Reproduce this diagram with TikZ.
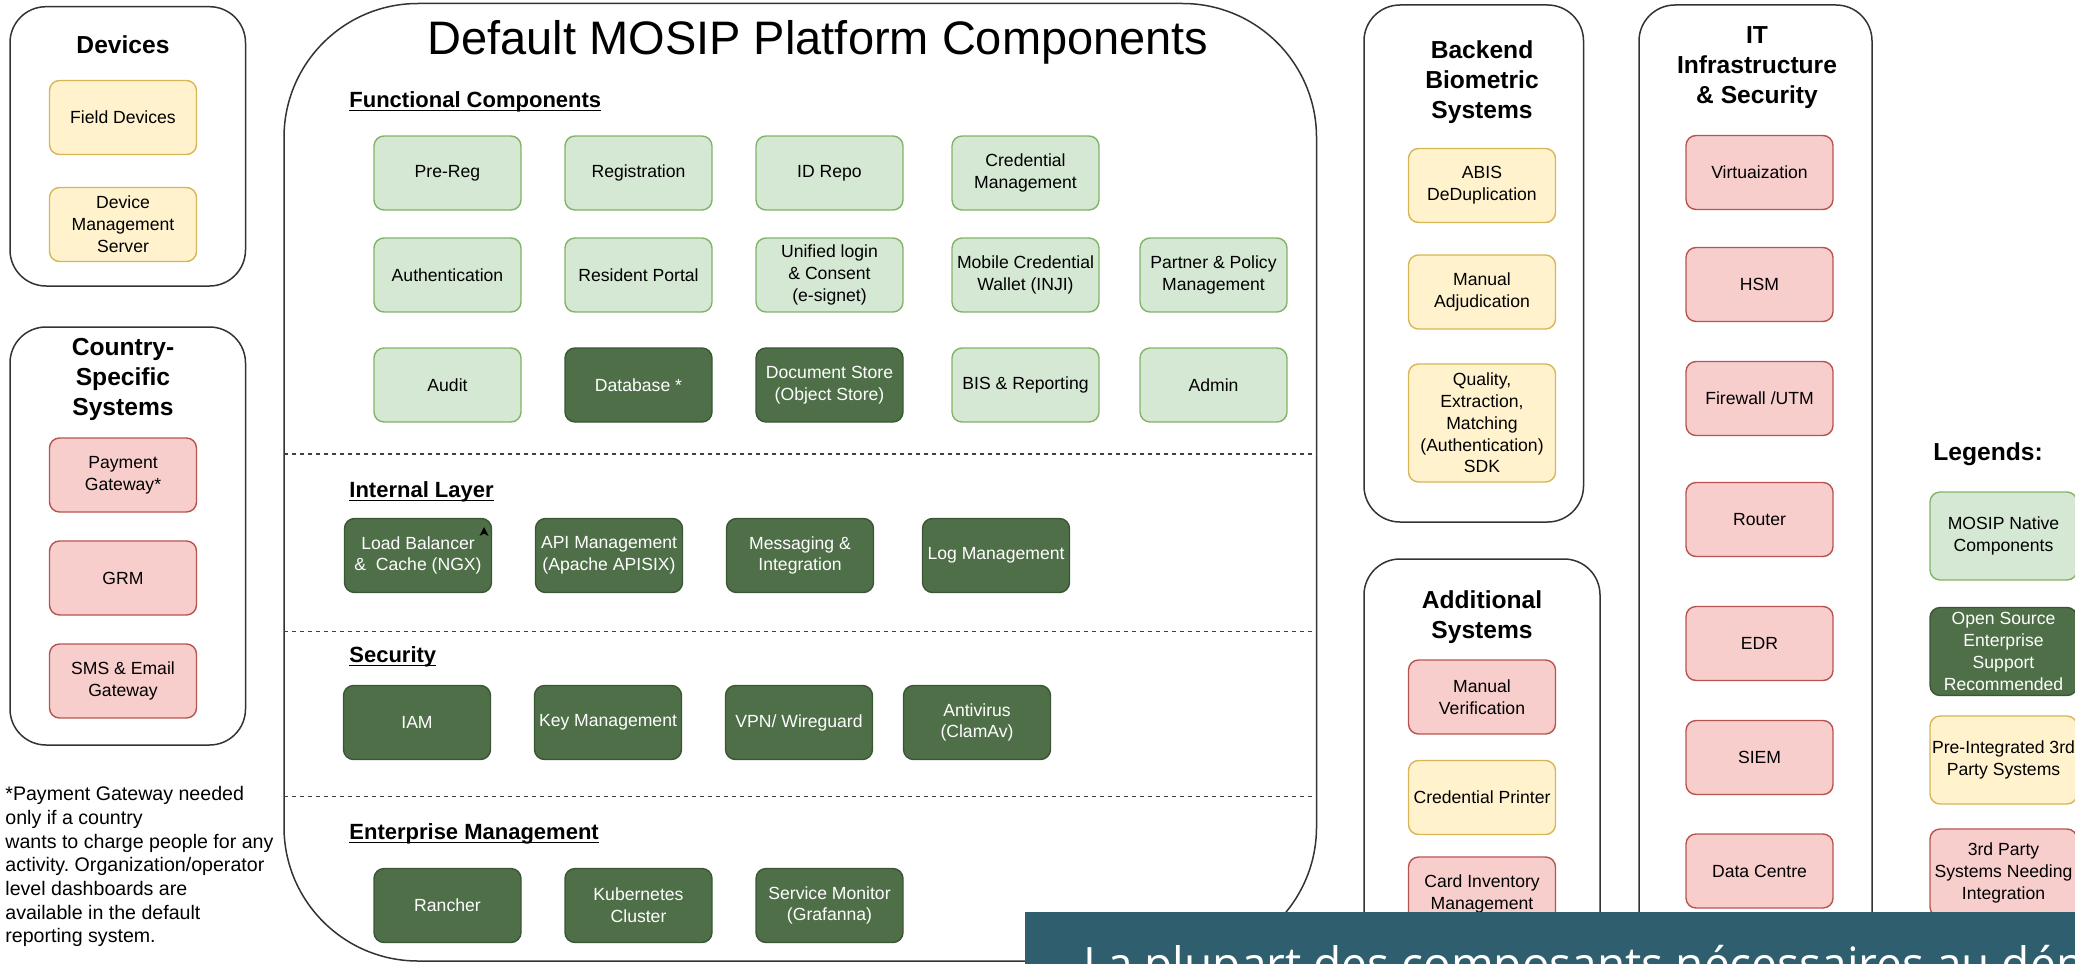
\documentclass[tikz,border=0pt]{standalone}
\usepackage{fontspec}
\setmainfont{Liberation Sans}
\newfontfamily\bannerfont{Open Sans}
\usepackage{tikz}
\usetikzlibrary{positioning}
\frenchspacing

\definecolor{natfill}{HTML}{D5E8D4}
\definecolor{natline}{HTML}{82B366}
\definecolor{ossfill}{HTML}{4E6F47}
\definecolor{ossline}{HTML}{3A5634}
\definecolor{prefill}{HTML}{FFF2CC}
\definecolor{preline}{HTML}{D6B656}
\definecolor{needfill}{HTML}{F8CECC}
\definecolor{needline}{HTML}{B85450}
\definecolor{bannerbg}{HTML}{2F5E6E}

\newcommand{\ulhead}[1]{\setbox0\hbox{#1}\rlap{\rule[-1.6pt]{\wd0}{0.6pt}}\box0}

\begin{document}
\begin{tikzpicture}[x=0.5pt, y=-0.5pt, node distance=95.5pt, on grid,
    comp/.style={rectangle, rounded corners=5pt, line width=0.7pt, minimum width=73.5pt,
      minimum height=37pt, align=center, inner sep=1pt, font=\fontsize{8.8}{10.9}\selectfont},
    native/.style={comp, draw=natline, fill=natfill},
    oss/.style={comp, draw=ossline, fill=ossfill, text=white},
    pre/.style={comp, draw=preline, fill=prefill},
    need/.style={comp, draw=needline, fill=needfill},
    grp/.style={draw=black!80, line width=0.75pt, rounded corners=18pt},
    grptitle/.style={align=center, inner sep=0pt, anchor=north, font=\fontsize{12.3}{15}\selectfont\bfseries},
    layer/.style={inner sep=0pt, anchor=base west, font=\fontsize{11}{13}\selectfont\bfseries},
    sep/.style={black!75, line width=0.6pt, dash pattern=on 2pt off 2pt}]

    \useasboundingbox (0,0) rectangle (2075,963);
    \clip (0,0) rectangle (2075,963);

    % containers
    \draw[grp] (10,6.7) rectangle (245.5,286);
    \draw[grp] (10,327) rectangle (245.5,745);
    \draw[grp, rounded corners=67pt] (284,3.5) rectangle (1316.5,961);
    \draw[grp] (1364,5) rectangle (1583.5,522);
    \draw[grp] (1364,559) rectangle (1600,1000);
    \draw[grp] (1639,5) rectangle (1872,1000);

    \draw[sep] (284,454) -- (1316.5,454);
    \draw[sep] (284,631.5) -- (1316.5,631.5);
    \draw[sep] (284,796.5) -- (1316.5,796.5);

    % devices
    \node[grptitle] (devtitle) at (123,35) {Devices};
    \node[pre] (field) at (123,117.5) {Field Devices};
    \node[pre, below=53.5pt of field] (devmgmt) {Device\\Management\\Server};

    % country specific
    \node[grptitle] (countrytitle) at (123,338) {Country-\\Specific\\Systems};
    \node[need] (payment) at (123,475) {Payment\\Gateway*};
    \node[need, below=51.5pt of payment] (grm) {GRM};
    \node[need, below=51.5pt of grm] (sms) {SMS \& Email\\Gateway};

    \node[anchor=north west, align=left, inner sep=0pt, font=\fontsize{9.8}{11.85}\selectfont] (note) at (5,786)
      {*Payment Gateway needed\\only if a country\\wants to charge people for any\\activity. Organization/operator\\level dashboards are\\available in the default\\reporting system.};

    % platform
    \node[anchor=base, inner sep=0pt, font=\fontsize{23.5}{28}\selectfont] (title) at (818,55) {Default MOSIP Platform Components};

    \node[layer] (funchead) at (349,108) {\ulhead{Functional Components}};
    \node[native] (prereg) at (447.5,173) {Pre-Reg};
    \node[native, right=of prereg] (registration) {Registration};
    \node[native, right=of registration] (idrepo) {ID Repo};
    \node[native, right=98pt of idrepo] (credmgmt) {Credential\\Management};

    \node[native, below=51pt of prereg] (authn) {Authentication};
    \node[native, right=of authn] (resident) {Resident Portal};
    \node[native, right=of resident] (esignet) {Unified login\\\& Consent\\(e-signet)};
    \node[native, right=98pt of esignet] (inji) {Mobile Credential\\Wallet (INJI)};
    \node[native, right=94pt of inji] (partner) {Partner \& Policy\\Management};

    \node[native, below=55pt of authn] (audit) {Audit};
    \node[oss, right=of audit] (database) {Database *};
    \node[oss, right=of database] (docstore) {Document Store\\(Object Store)};
    \node[native, right=98pt of docstore] (bis) {BIS \& Reporting};
    \node[native, right=94pt of bis] (admin) {Admin};

    \node[layer] (inthead) at (349,497.5) {\ulhead{Internal Layer}};
    \node[oss] (lb) at (418,555.5) {Load Balancer\\\&\ \ Cache (NGX)};
    \node[oss, right=of lb] (apim) {API Management\\(Apache APISIX)};
    \node[oss, right=of apim] (messaging) {Messaging \&\\Integration};
    \node[oss, right=98pt of messaging] (logmgmt) {Log Management};
    \fill (484,527) -- (488.5,536) -- (484,533.5) -- (479.5,536) -- cycle;

    \node[layer] (sechead) at (349,662.5) {\ulhead{Security}};
    \node[oss] (iam) at (417,722.5) {IAM};
    \node[oss, right=of iam] (keymgmt) {Key Management};
    \node[oss, right=of keymgmt] (vpn) {VPN/ Wireguard};
    \node[oss, right=89pt of vpn] (antivirus) {Antivirus\\(ClamAv)};

    \node[layer] (enthead) at (349,839.5) {\ulhead{Enterprise Management}};
    \node[oss] (rancher) at (447.5,905.5) {Rancher};
    \node[oss, right=of rancher] (kube) {Kubernetes\\Cluster};
    \node[oss, right=of kube] (svcmon) {Service Monitor\\(Grafanna)};

    % backend biometric
    \node[grptitle] (backtitle) at (1482,40) {Backend\\Biometric\\Systems};
    \node[pre] (abis) at (1482,185.5) {ABIS\\DeDuplication};
    \node[pre, below=53.25pt of abis] (manadj) {Manual\\Adjudication};
    \node[pre, minimum height=59pt, below=65.5pt of manadj] (sdk) {Quality,\\Extraction,\\Matching\\(Authentication)\\SDK};

    % additional
    \node[grptitle] (addtitle) at (1482,590) {Additional\\Systems};
    \node[need] (manver) at (1482,697) {Manual\\Verification};
    \node[pre, below=50.25pt of manver] (printer) {Credential Printer};
    \node[need, below=48.25pt of printer] (cardinv) {Card Inventory\\Management};

    % it infrastructure
    \node[grptitle] (ittitle) at (1757,26) {IT\\Infrastructure\\\& Security};
    \node[need] (virt) at (1759.5,172.5) {Virtuaization};
    \node[need, below=56pt of virt] (hsm) {HSM};
    \node[need, below=57pt of hsm] (firewall) {Firewall /UTM};
    \node[need, below=60.5pt of firewall] (router) {Router};
    \node[need, below=62pt of router] (edr) {EDR};
    \node[need, below=57pt of edr] (siem) {SIEM};
    \node[need, below=56.75pt of siem] (datacentre) {Data Centre};

    % legends
    \node[grptitle] (legtitle) at (1988,442) {Legends:};
    \node[native, minimum height=44pt] (legnative) at (2003.5,536) {MOSIP Native\\Components};
    \node[oss, minimum height=44pt, below=57.75pt of legnative] (legoss) {Open Source\\Enterprise\\Support\\Recommended};
    \node[pre, minimum height=44pt, below=54.25pt of legoss] (legpre) {Pre-Integrated 3rd\\Party Systems};
    \node[need, minimum height=44pt, below=56.5pt of legpre] (legneed) {3rd Party\\Systems Needing\\Integration};

    % banner
    \fill[bannerbg] (1025,912) rectangle (2080,970);
    \node[anchor=base west, inner sep=0pt, text=white, font=\bannerfont\fontsize{23}{28}\selectfont] (bannertext) at (1083,980)
      {La plupart des composants nécessaires au dép};

\end{tikzpicture}
\end{document}
